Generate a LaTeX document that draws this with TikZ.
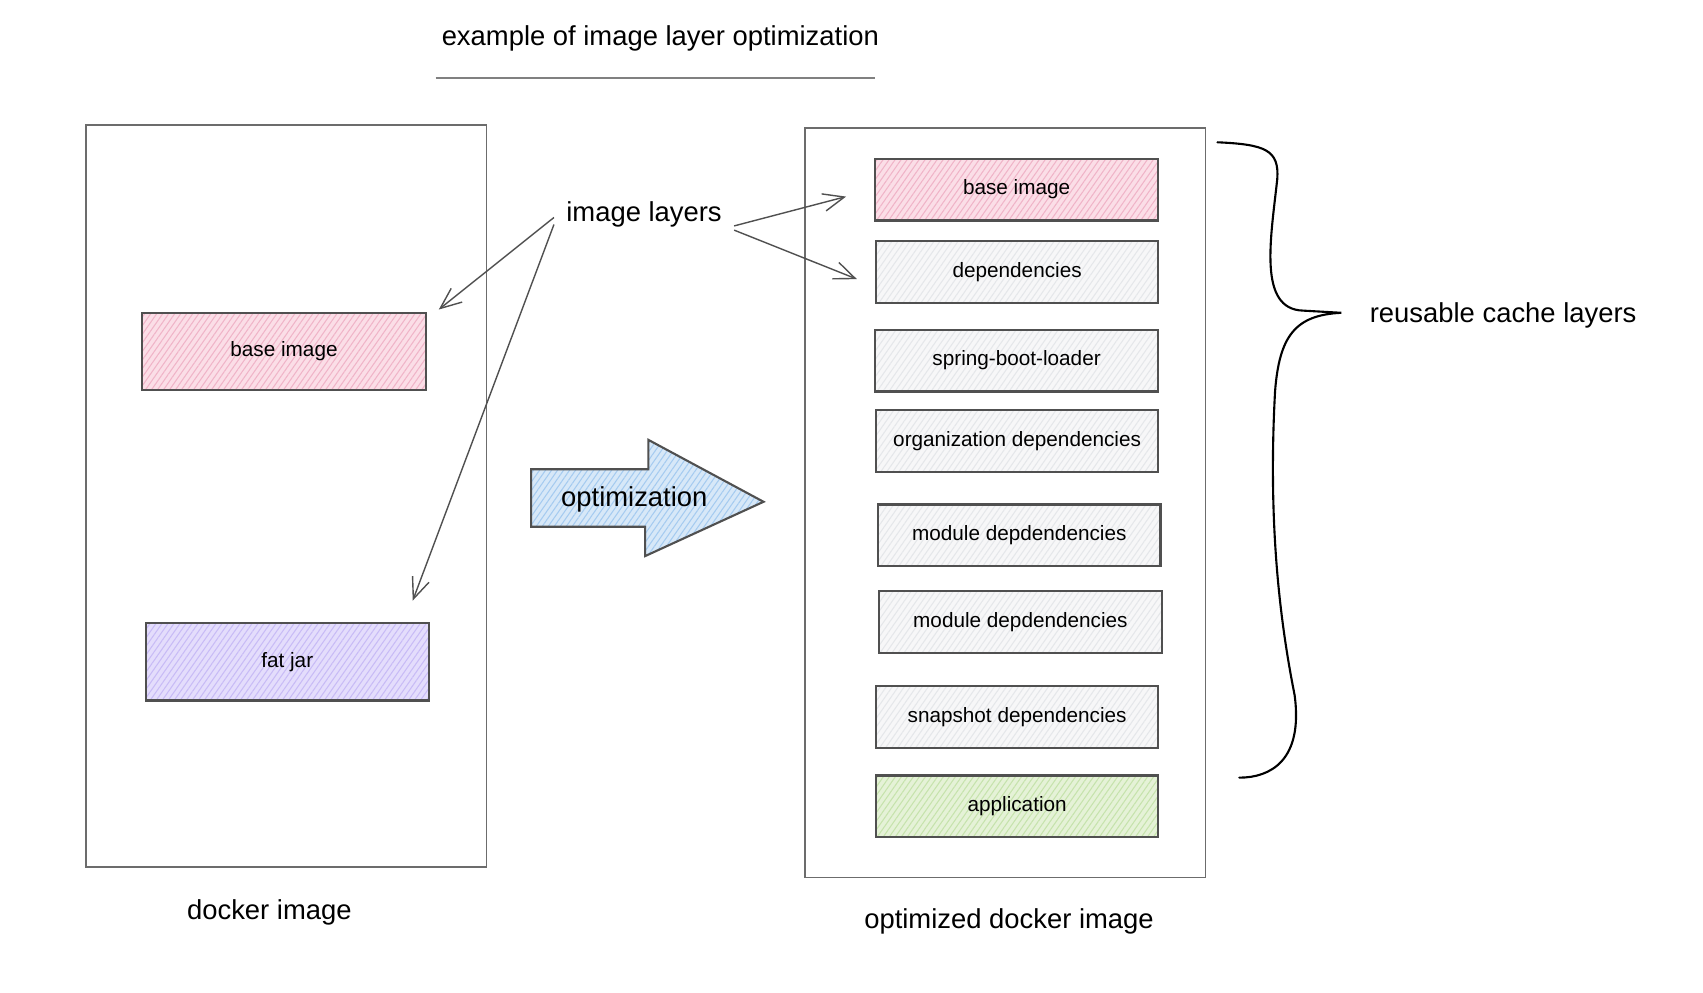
\documentclass[tikz,border=0pt]{standalone}
\usepackage{fontspec}
\setmainfont{Liberation Sans}
\usepackage{tikz}
\usepackage{xcolor}
\definecolor{basepink}{RGB}{251,222,231}
\definecolor{basepinkline}{RGB}{240,180,200}
\definecolor{jarpurple}{RGB}{228,221,252}
\definecolor{jarpurpleline}{RGB}{200,187,246}
\definecolor{depgray}{RGB}{247,247,248}
\definecolor{depgrayline}{RGB}{229,231,234}
\definecolor{appgreen}{RGB}{229,242,215}
\definecolor{appgreenline}{RGB}{198,227,172}
\definecolor{optblue}{RGB}{215,232,248}
\definecolor{optblueline}{RGB}{165,203,240}
\definecolor{edgegray}{RGB}{80,80,80}
\tikzset{layer/.style={draw=edgegray, line width=0.6pt, minimum width=2.824cm,
   minimum height=0.619cm, inner sep=0pt, font=\fontsize{5.9}{7}\selectfont},
 hatch/.style 2 args={preaction={fill=#1},
   preaction={pattern={Lines[angle=55,distance=1.4pt,line width=0.3pt]}, pattern color=#2}},
 basefill/.style={hatch={basepink}{basepinkline}},
 jarfill/.style={hatch={jarpurple}{jarpurpleline}},
 depfill/.style={hatch={depgray}{depgrayline}},
 appfill/.style={hatch={appgreen}{appgreenline}},
 optfill/.style={hatch={optblue}{optblueline}},
 bigtext/.style={font=\fontsize{7.8}{9}\selectfont},
 container/.style={draw=gray!85!black, line width=0.45pt},
 pointer/.style={draw=edgegray, line width=0.4pt, -{Straight Barb[length=6pt,width=5pt]}},
 }
\usetikzlibrary{patterns.meta}
\usetikzlibrary{arrows.meta}

\begin{document}
\begin{tikzpicture}[x=0.01086cm, y=-0.01086cm]
        \useasboundingbox (0,0) rectangle (1568,913.4);
        \node[bigtext] (title) at (608,35) {example of image layer optimization};
        \draw[gray, line width=0.6pt] (401,72) -- (806,72);
        \draw[container] (79,115) rectangle (448,798);
        \draw[container] (741,118) rectangle (1110,808);
        \node[layer, basefill, minimum width=2.834cm, minimum height=0.771cm] (lbase) at (261.5,323.5) {base image};
        \node[layer, jarfill, minimum width=2.834cm, minimum height=0.771cm] (ljar) at (264.5,609.5) {fat jar};
        \node[bigtext] (ldocker) at (248,840) {docker image};
        \node[layer, basefill] (rbase) at (936,174.5) {base image};
        \node[layer, depfill] (rdeps) at (936.5,250.5) {dependencies};
        \node[layer, depfill] (rloader) at (936,332) {spring-boot-loader};
        \node[layer, depfill] (rorg) at (936.5,406) {organization dependencies};
        \node[layer, depfill] (rmodA) at (938.5,493) {module depdendencies};
        \node[layer, depfill] (rmodB) at (939.5,573) {module depdendencies};
        \node[layer, depfill] (rsnap) at (936.5,660.5) {snapshot dependencies};
        \node[layer, appfill] (rapp) at (936.5,742.5) {application};
        \node[bigtext] (rdocker) at (929,848) {optimized docker image};
        \draw[optfill, draw=edgegray, line width=0.6pt] (489,432) -- (597,432) -- (597,405)
            -- (703,462) -- (594,512) -- (594,485) -- (489,485) -- cycle;
        \node[bigtext] (opt) at (584,460) {optimization};
        \node[bigtext] (imglayers) at (593,197) {image layers};
        \coordinate (lbasetip) at (404,285);
        \coordinate (ljartip) at (380,553);
        \coordinate (rbasetip) at (779,181);
        \coordinate (rdepstip) at (789,257);
        \draw[pointer] ([yshift=-1pt]imglayers.west) -- (lbasetip);
        \draw[pointer] ([yshift=-3pt]imglayers.west) -- (ljartip);
        \draw[pointer] ([yshift=-3.4pt]imglayers.east) -- (rbasetip);
        \draw[pointer] ([yshift=-4.6pt]imglayers.east) -- (rdepstip);
        \draw[line width=0.6pt, line cap=round] (1121,131) .. controls (1165,133) and (1178,138) .. (1176,165)
            .. controls (1170,220) and (1158,285) .. (1200,286) -- (1235,288)
            .. controls (1192,290) and (1178,310) .. (1174,360)
            .. controls (1168,470) and (1176,560) .. (1192,640)
            .. controls (1200,700) and (1170,716) .. (1141,716);
        \node[bigtext] (reuse) at (1384,290) {reusable cache layers};
    \end{tikzpicture}
\end{document}
